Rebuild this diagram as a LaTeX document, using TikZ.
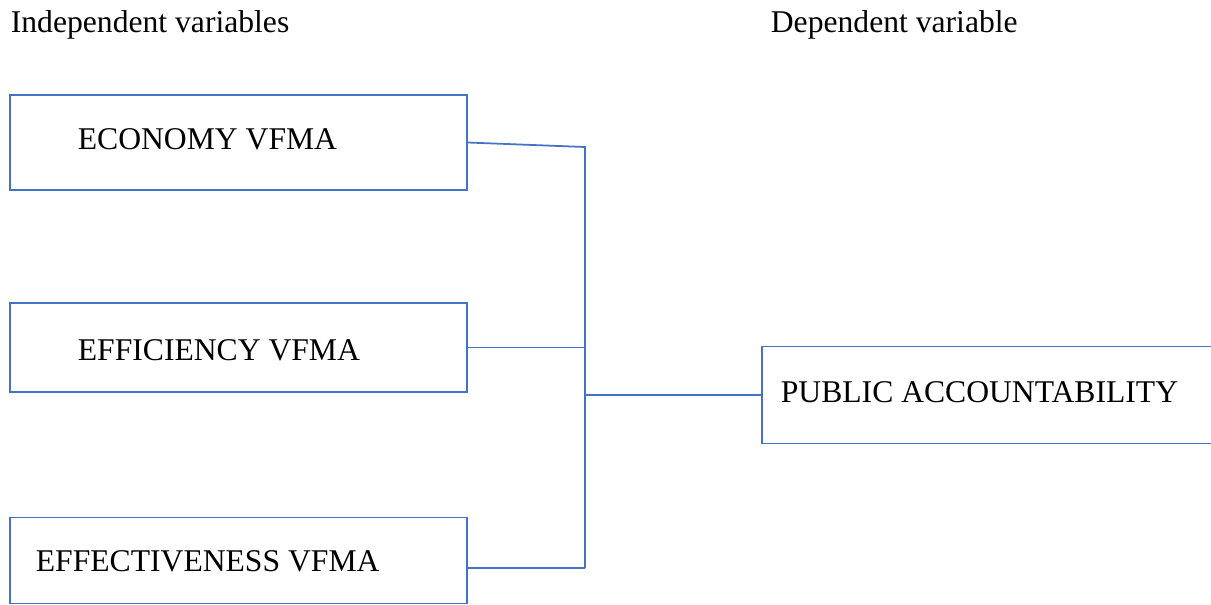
\documentclass[tikz,border=0pt]{standalone}
\usepackage{fontspec}
\setmainfont{Liberation Serif}
\definecolor{lineblue}{RGB}{68,114,196}

\begin{document}
\begin{tikzpicture}
[line width=1pt,
varbox/.style={rectangle, draw=lineblue, inner sep=0pt, minimum width=9.14cm},
heading/.style={anchor=base west, inner sep=0pt, font=\fontsize{18}{22}\selectfont},
varname/.style={anchor=base west, inner sep=0pt, font=\fontsize{18}{22}\selectfont},
link/.style={draw=lineblue}]

\useasboundingbox (0,0) rectangle (24.22,-12.08);

\node[heading] (indep) at (0.2,-0.64) {Independent variables};
\node[heading] (dep) at (15.4,-0.64) {Dependent variable};

\node[varbox, minimum height=1.9cm] (economy) at (4.77,-2.85) {};
\node[varname] (economyname) at (1.54,-2.98) {ECONOMY VFMA};
\node[varbox, minimum height=1.78cm] (efficiency) at (4.77,-6.95) {};
\node[varname] (efficiencyname) at (1.54,-7.2) {EFFICIENCY VFMA};
\node[varbox, minimum height=1.72cm] (effect) at (4.77,-11.21) {};
\node[varname] (effectname) at (0.7,-11.42) {EFFECTIVENESS VFMA};

\node[varbox, minimum height=1.94cm, minimum width=9.6cm] (public) at (20.04,-7.9) {};
\node[varname] (publicname) at (15.6,-8.05) {PUBLIC ACCOUNTABILITY};

\coordinate (jtop) at (11.7,-2.94);
\coordinate (jmid) at (11.7,-7.9);
\coordinate (jbot) at (11.7,-11.36);

\draw[link] (economy.east) -- (jtop) -- (jbot);
\draw[link] (efficiency.east) -- (efficiency.east -| jtop);
\draw[link] ([yshift=-0.15cm]effect.east) -- (jbot);
\draw[link] (jmid) -- (public.west);
\end{tikzpicture}
\end{document}
